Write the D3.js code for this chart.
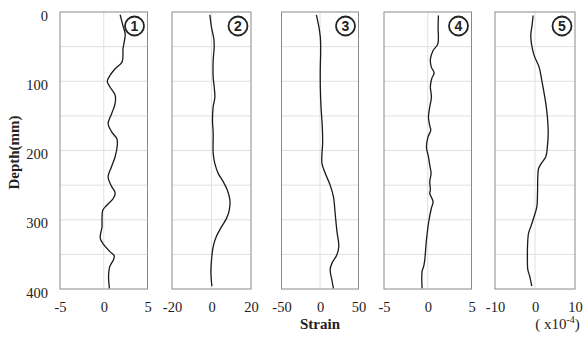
<!DOCTYPE html>
<html>
<head>
<meta charset="utf-8">
<script src="https://cdn.jsdelivr.net/npm/d3@7"></script>
<style>
  body { margin: 0; background: #fff; }
  text { font-family: "Liberation Serif", "Times New Roman", serif; fill: #222; }
</style>
</head>
<body>
<svg id="chart" width="584" height="337"></svg>
<script>
// depth (mm) for each reading, strain values in x10^-4
const depth1 = [4, 20, 32, 46, 53, 72, 82, 92, 100, 108, 120, 132, 147, 161, 173, 183, 192, 209, 223, 238, 252, 261, 269, 279, 286, 300, 310, 327, 336, 346, 352, 358, 367, 382, 399]
const strain1 = [1.87, 2.2, 2.45, 2.3, 2.2, 2.1, 1.3, 0.7, 0.4, 0.7, 1.3, 1.3, 0.9, 0.5, 0.9, 1.5, 1.55, 1.3, 0.9, 0.5, 0.9, 1.3, 1.1, 0.35, -0.1, -0.2, -0.2, -0.4, 0, 0.7, 1.2, 1.1, 0.7, 0.55, 0.65]

const depth2 = [4, 22, 39, 51, 70, 94, 108, 123, 137, 156, 175, 204, 219, 233, 245, 257, 271, 286, 298, 310, 324, 339, 358, 377, 396]
const strain2 = [-0.85, 0, 1.2, 1.35, 0.85, 0.85, 1.35, 1.7, 0.85, 0.5, 0.85, 0.85, 1.7, 3.4, 5.9, 8, 9.3, 9, 7.6, 5.1, 2.5, 0.85, 0, -0.3, 0.2]

const depth3 = [4, 20, 36, 56, 80, 108, 137, 166, 190, 204, 219, 233, 250, 267, 291, 315, 339, 351, 363, 372, 387, 399]
const strain3 = [-4.7, -1.7, 0.4, 0.9, 0.4, 0.4, 1.3, 3, 3.4, 2.6, 2.6, 6.8, 13.2, 17.5, 19.7, 21.8, 24.4, 21.8, 15.4, 13.2, 15.4, 17.5]

const depth4 = [5, 22, 46, 56, 68, 80, 88, 96, 108, 123, 137, 152, 164, 171, 180, 195, 209, 221, 233, 245, 257, 262, 274, 283, 300, 329, 358, 367, 375, 399]
const strain4 = [1.22, 1.18, 1.15, 0.6, 0.3, 0.42, 0.73, 0.46, 0.3, 0.42, 0.23, 0.08, 0.23, 0.34, 0.04, -0.15, 0.08, 0.23, 0.38, 0.23, 0.3, 0.23, 0.61, 0.42, 0.15, -0.15, -0.34, -0.46, -0.65, -0.65]

const depth5 = [5, 22, 32, 46, 63, 80, 99, 118, 132, 152, 175, 194, 209, 219, 226, 238, 262, 281, 295, 310, 319, 329, 358, 372, 382, 396]
const strain5 = [-0.46, -0.8, -1.05, -0.88, -0.2, 1.05, 1.7, 2.3, 2.7, 3.1, 3.3, 3.1, 2.7, 1.55, 0.9, 0.7, 0.63, 0.46, -0.2, -1.05, -1.6, -1.8, -1.9, -1.8, -1.3, -0.8]

const panelLabels = ['1', '2', '3', '4', '5']
const xLimits = [[-5, 5], [-20, 20], [-50, 50], [-5, 5], [-10, 10]]
const depthTicks = [0, 100, 200, 300, 400]
const gridDepths = [50, 100, 150, 200, 250, 300, 350]

const depths = [depth1, depth2, depth3, depth4, depth5]
const strains = [strain1, strain2, strain3, strain4, strain5]

// panel pixel placement
const panelLeft = [60, 172, 281.5, 384, 495]
const panelRight = [147.5, 251, 358.5, 471.5, 575]
const plotTop = 12
const plotBottom = 289

const svg = d3.select('#chart')

let yScale = d3.scaleLinear().domain([0, 400]).range([plotTop, plotBottom])

for (let i = 0; i < 5; i++) {
    let xScale = d3.scaleLinear().domain(xLimits[i]).range([panelLeft[i], panelRight[i]])
    let g = svg.append('g')

    // grid
    g.selectAll('.hgrid')
        .data(gridDepths)
        .join('line')
        .attr('x1', panelLeft[i]).attr('x2', panelRight[i])
        .attr('y1', d => yScale(d)).attr('y2', d => yScale(d))
        .attr('stroke', '#e0e0e0').attr('stroke-width', 1)
    g.append('line')
        .attr('x1', xScale(0)).attr('x2', xScale(0))
        .attr('y1', plotTop).attr('y2', plotBottom)
        .attr('stroke', '#e0e0e0').attr('stroke-width', 1)

    // frame
    g.append('rect')
        .attr('x', panelLeft[i]).attr('y', plotTop)
        .attr('width', panelRight[i] - panelLeft[i])
        .attr('height', plotBottom - plotTop)
        .attr('fill', 'none').attr('stroke', '#8a8a8a').attr('stroke-width', 1)

    // x axis labels
    let xAxis = d3.axisBottom(xScale)
        .tickValues([xLimits[i][0], 0, xLimits[i][1]])
        .tickFormat(d => String(d))
        .tickSize(0)
    let ax = g.append('g').attr('transform', 'translate(0,' + plotBottom + ')').call(xAxis)
    ax.attr('font-family', null).attr('font-size', null)
    ax.select('.domain').remove()
    ax.selectAll('text').attr('dy', null).attr('y', 23).style('font-size', '14.5px').attr('fill', '#222')

    // the curve
    let pts = depths[i].map((d, j) => [strains[i][j], d])
    g.append('path')
        .datum(pts)
        .attr('fill', 'none')
        .attr('stroke', '#1a1a1a')
        .attr('stroke-width', 1.3)
        .attr('d', d3.line().x(d => xScale(d[0])).y(d => yScale(d[1])).curve(d3.curveCatmullRom))

    // circled number
    let cx = panelRight[i] - 13
    let cy = plotTop + 14
    g.append('circle').attr('cx', cx).attr('cy', cy).attr('r', 9.5)
        .attr('fill', '#fff').attr('stroke', '#222').attr('stroke-width', 1.8)
    g.append('text').attr('x', cx).attr('y', cy + 5)
        .attr('text-anchor', 'middle')
        .style('font-family', '"Liberation Sans", Arial, sans-serif')
        .style('font-weight', 'bold').style('font-size', '14px')
        .text(panelLabels[i])
}

// depth axis on first panel
let yAxis = d3.axisLeft(yScale).tickValues(depthTicks).tickSize(0).tickPadding(12)
let ay = svg.append('g').attr('transform', 'translate(' + panelLeft[0] + ',0)').call(yAxis)
ay.attr('font-family', null).attr('font-size', null)
ay.select('.domain').remove()
ay.selectAll('text').attr('dy', null).attr('y', 8).style('font-size', '14.5px').attr('fill', '#222')

svg.append('text')
    .attr('transform', 'translate(19,' + ((plotTop + plotBottom) / 2 + 2) + ') rotate(-90)')
    .attr('text-anchor', 'middle')
    .style('font-weight', 'bold').style('font-size', '15px')
    .text('Depth(mm)')

svg.append('text')
    .attr('x', 320).attr('y', 329)
    .attr('text-anchor', 'middle')
    .style('font-weight', 'bold').style('font-size', '15px')
    .text('Strain')

let unit = svg.append('text')
    .attr('x', 557.5).attr('y', 329)
    .attr('text-anchor', 'middle')
    .style('font-size', '15px')
unit.append('tspan').text('( x10')
unit.append('tspan').attr('dy', -6).style('font-size', '10px').text('-4')
unit.append('tspan').attr('dy', 6).text(')')
</script>
</body>
</html>
